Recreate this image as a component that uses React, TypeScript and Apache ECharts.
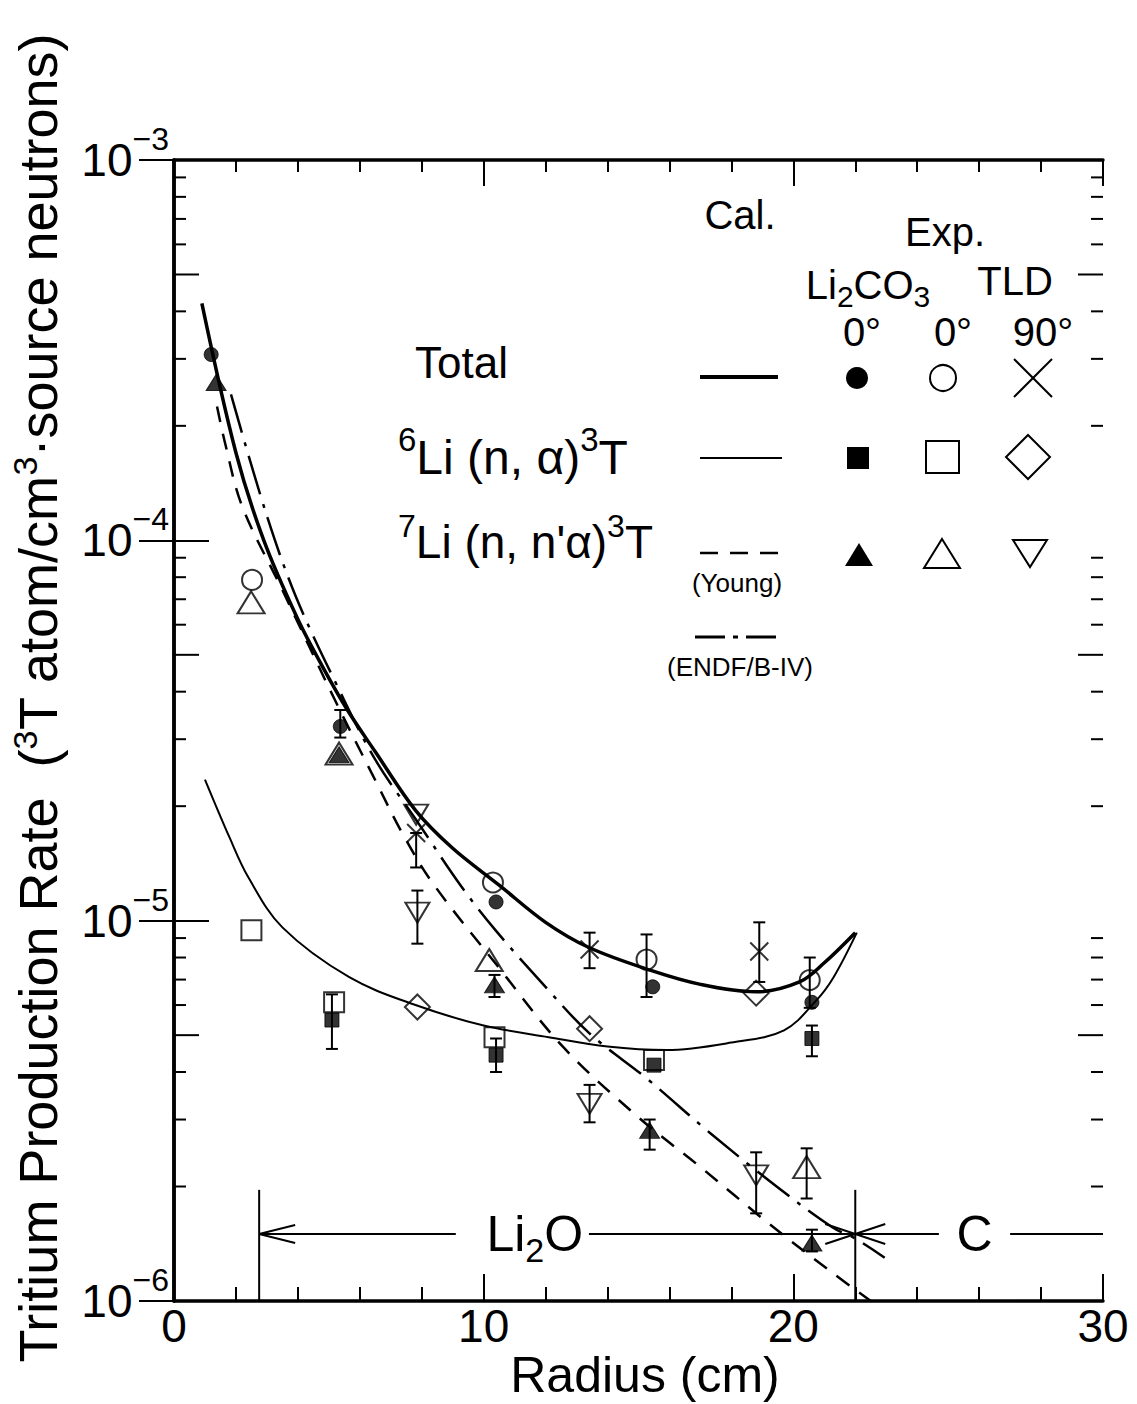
import React, { useEffect, useRef } from "react";
import * as echarts from "echarts";

const FONT = "'Liberation Sans', Arial, sans-serif";

// ---- axes ----
const X_MIN = 0;
const X_MAX = 30;
const X_INTERVAL = 10;
const Y_MIN = 1e-6;
const Y_MAX = 1e-3;
const yDecadeExponents = [-6, -5, -4];
const yMinorMultipliers = [2, 3, 4, 5, 6, 7, 8, 9];

// ---- calculated curves [radius (cm), tritium production rate] ----
const totalCalc = [
  [0.9, 4.2e-4], [2.0, 1.7e-4], [2.9, 1.0e-4], [4.0, 6.2e-5], [4.8, 4.65e-5],
  [5.6, 3.58e-5], [6.5, 2.78e-5], [7.8, 1.95e-5], [9.0, 1.55e-5], [10.5, 1.24e-5],
  [12.0, 9.9e-6], [13.4, 8.5e-6], [15.4, 7.4e-6], [17.0, 6.8e-6], [18.8, 6.5e-6],
  [20.2, 6.9e-6], [21.0, 7.75e-6], [22.0, 9.3e-6],
];
const li6Calc = [
  [1.0, 2.35e-5], [1.8, 1.65e-5], [2.4, 1.3e-5], [3.5, 9.6e-6], [5.66, 7.1e-6],
  [7.8, 6.0e-6], [10.0, 5.3e-6], [12.1, 4.94e-6], [14.0, 4.67e-6], [15.9, 4.57e-6],
  [18.0, 4.78e-6], [19.7, 5.15e-6], [20.75, 6.18e-6], [21.3, 7.1e-6], [22.05, 9.3e-6],
];
const li7Young = [
  [1.39, 2.25e-4], [1.65, 1.8e-4], [2.2, 1.23e-4], [3.5, 7.4e-5], [5.24, 3.74e-5],
  [6.5, 2.34e-5], [7.37, 1.7e-5], [8.34, 1.26e-5], [10.45, 7.6e-6], [12.55, 4.67e-6],
  [15.0, 3.04e-6], [17.0, 2.25e-6], [19.2, 1.6e-6], [21.3, 1.18e-6], [22.5, 1.0e-6],
];
const li7Endf = [
  [1.84, 2.42e-4], [2.97, 1.18e-4], [3.94, 7.1e-5], [5.33, 4.05e-5], [6.5, 2.65e-5],
  [7.9, 1.8e-5], [9.28, 1.23e-5], [10.4, 9.4e-6], [11.8, 6.98e-6], [13.4, 5.07e-6],
  [15.26, 3.85e-6], [17.3, 2.77e-6], [19.46, 2.0e-6], [21.27, 1.56e-6], [22.0, 1.46e-6],
  [22.95, 1.3e-6],
];

// ---- experiments ----
const totalLi2co3 = [[1.2, 3.08e-4], [5.37, 3.24e-5], [10.4, 1.12e-5], [15.46, 6.7e-6], [20.6, 6.1e-6]];
const totalTld0 = [[2.52, 7.87e-5], [10.3, 1.26e-5], [15.26, 7.9e-6], [20.53, 6.98e-6]];
const totalTld90 = [[7.82, 1.7e-5], [13.42, 8.4e-6], [18.9, 8.3e-6]];
const li6Li2co3 = [[5.1, 5.48e-6], [10.4, 4.43e-6], [15.5, 4.17e-6], [20.6, 4.9e-6]];
const li6Tld0 = [[2.5, 9.44e-6], [5.17, 6.1e-6], [10.35, 4.94e-6], [15.5, 4.3e-6]];
const li6Tld90 = [[7.86, 5.93e-6], [13.42, 5.2e-6], [18.8, 6.45e-6]];
const li7Li2co3 = [[1.36, 2.6e-4], [5.33, 2.73e-5], [10.35, 6.78e-6], [15.36, 2.81e-6], [20.6, 1.42e-6]];
const li7Tld0 = [[2.49, 6.87e-5], [5.33, 2.75e-5], [10.18, 7.88e-6], [20.43, 2.25e-6]];
const li7Tld90 = [[7.82, 1.9e-5], [7.86, 1.05e-5], [13.42, 3.3e-6], [18.8, 2.14e-6]];

// error bars [radius, low, high]
const errorBars = [
  [5.37, 3.03e-5, 3.58e-5],
  [7.82, 1.38e-5, 1.7e-5],
  [13.42, 7.5e-6, 9.3e-6],
  [18.9, 6.9e-6, 9.9e-6],
  [15.26, 6.3e-6, 9.2e-6],
  [20.53, 5.9e-6, 8.0e-6],
  [5.1, 4.6e-6, 6.4e-6],
  [10.4, 4.0e-6, 4.9e-6],
  [20.6, 4.4e-6, 5.3e-6],
  [10.35, 6.3e-6, 7.2e-6],
  [15.36, 2.5e-6, 3.0e-6],
  [20.6, 1.35e-6, 1.54e-6],
  [20.43, 1.86e-6, 2.52e-6],
  [7.86, 8.7e-6, 1.2e-5],
  [13.42, 2.95e-6, 3.7e-6],
  [18.8, 1.7e-6, 2.46e-6],
];

// ---- region annotation (Li2O | C) ----
const li2oStart = 2.75;
const boundaryR = 22.0;
const zoneLevel = 1.5e-6;
const zoneTop = 1.96e-6;
const li2oGapStart = 9.1;
const li2oGapEnd = 13.4;
const li2oLabelX = 11.65;
const cGapStart = 24.7;
const cGapEnd = 27.0;
const cLabelX = 25.85;

const yMinorValues: number[][] = [];
yDecadeExponents.forEach((e) => {
  yMinorMultipliers.forEach((m) => yMinorValues.push([X_MIN, m * Math.pow(10, e)]));
});

const BLACK = "#000";
const openStyle = { color: "rgba(0,0,0,0)", borderColor: BLACK, borderWidth: 2 };
const filledStyle = { color: BLACK, borderColor: BLACK, borderWidth: 1 };
const CROSS = "path://M0 0L20 20M20 0L0 20";
const DOWN_TRI = "path://M0 0L24 0L12 20Z";
const UP_TRI = "path://M12 0L24 20L0 20Z";

function lineSeries(data: number[][], width: number, type: any) {
  return {
    type: "line",
    data,
    smooth: 0.35,
    showSymbol: false,
    symbol: "none",
    lineStyle: { color: BLACK, width, type },
    z: 2,
  };
}
function scatter(data: number[][], symbol: string, size: any, style: any) {
  return { type: "scatter", data, symbol, symbolSize: size, itemStyle: style, z: 4 };
}

function ln(x1: number, y1: number, x2: number, y2: number, w = 2, dash?: number[]) {
  return {
    type: "line",
    shape: { x1, y1, x2, y2 },
    style: { stroke: BLACK, lineWidth: w, lineDash: dash },
  };
}
function txt(x: number, y: number, text: string, size: number, align = "center", rich?: any) {
  return {
    type: "text",
    x,
    y,
    style: { text, fontSize: size, fontFamily: FONT, fill: BLACK, align, verticalAlign: "middle", rich },
  };
}

const supRich = (base: number, sup: number) => ({
  b: { fontSize: base, fontFamily: FONT, lineHeight: base * 1.4, fill: BLACK },
  s: { fontSize: sup, fontFamily: FONT, lineHeight: sup, verticalAlign: "top", fill: BLACK },
});
const subRich = (base: number, sub: number) => ({
  b: { fontSize: base, fontFamily: FONT, lineHeight: base * 1.3, fill: BLACK },
  s: { fontSize: sub, fontFamily: FONT, lineHeight: sub, verticalAlign: "bottom", fill: BLACK },
});

function buildOption() {
  const axisLine = { show: true, lineStyle: { color: BLACK, width: 3.5 } };
  const xTick = { show: true, inside: true, length: 27, lineStyle: { color: BLACK, width: 2 } };
  const xMinor = { show: true, splitNumber: 5, length: 14, lineStyle: { color: BLACK, width: 2 } };
  const yTick = { show: true, inside: true, length: 35, lineStyle: { color: BLACK, width: 2 } };

  const graphic: any[] = [
    // y axis title
    {
      type: "text",
      x: 38,
      y: 698,
      rotation: Math.PI / 2,
      style: {
        text: "{b|Tritium Production Rate  (}{s|3}{b|T atom/cm}{s|3}{b|·source neutrons)}",
        align: "center",
        verticalAlign: "middle",
        rich: {
          b: { fontSize: 54, fontFamily: FONT, lineHeight: 60, fill: BLACK },
          s: { fontSize: 34, fontFamily: FONT, lineHeight: 34, verticalAlign: "top", fill: BLACK },
        },
      },
    },
    // x axis title
    txt(645, 1375, "Radius (cm)", 50),
    // legend header
    txt(740, 215, "Cal.", 40),
    txt(945, 232, "Exp.", 40),
    txt(868, 285, "{b|Li}{s|2}{b|CO}{s|3}", 40, "center", subRich(40, 30)),
    txt(1015, 281, "TLD", 40),
    txt(862, 332, "0°", 40),
    txt(953, 332, "0°", 40),
    txt(1043, 332, "90°", 40),
    // legend labels
    txt(415, 362, "Total", 44, "left"),
    txt(398, 457, "{s|6}{b|Li (n, α)}{s|3}{b|T}", 48, "left", supRich(48, 33)),
    txt(398, 542, "{s|7}{b|Li (n, n'α)}{s|3}{b|T}", 46, "left", supRich(46, 32)),
    // legend line samples
    ln(700, 377, 778, 377, 4),
    ln(700, 458, 782, 458, 2),
    ln(700, 553, 785, 553, 2.5, [18, 12]),
    txt(737, 583, "(Young)", 26),
    ln(695, 637, 783, 637, 3, [30, 8, 5, 8]),
    txt(740, 667, "(ENDF/B-IV)", 26),
    // legend markers, row Total
    { type: "circle", shape: { cx: 857, cy: 378, r: 11 }, style: { fill: BLACK } },
    { type: "circle", shape: { cx: 943, cy: 378, r: 13 }, style: { fill: "none", stroke: BLACK, lineWidth: 2 } },
    ln(1014, 359, 1052, 397, 2),
    ln(1052, 359, 1014, 397, 2),
    // row 6Li
    { type: "rect", shape: { x: 847, y: 447, width: 22, height: 22 }, style: { fill: BLACK } },
    { type: "rect", shape: { x: 926, y: 441, width: 33, height: 32 }, style: { fill: "none", stroke: BLACK, lineWidth: 2 } },
    {
      type: "polygon",
      shape: { points: [[1028, 435], [1050, 457], [1028, 479], [1006, 457]] },
      style: { fill: "none", stroke: BLACK, lineWidth: 2 },
    },
    // row 7Li
    { type: "polygon", shape: { points: [[859, 543], [873, 566], [845, 566]] }, style: { fill: BLACK } },
    {
      type: "polygon",
      shape: { points: [[942, 539], [960, 568], [924, 568]] },
      style: { fill: "none", stroke: BLACK, lineWidth: 2 },
    },
    {
      type: "polygon",
      shape: { points: [[1013, 540], [1047, 540], [1030, 567]] },
      style: { fill: "none", stroke: BLACK, lineWidth: 2 },
    },
  ];

  return {
    animation: false,
    backgroundColor: "#fff",
    grid: { left: 174, right: 34, top: 160, bottom: 103, containLabel: false, outerBoundsMode: "none" },
    xAxis: [
      {
        type: "value",
        position: "bottom",
        min: X_MIN,
        max: X_MAX,
        interval: X_INTERVAL,
        axisLine,
        axisTick: xTick,
        minorTick: xMinor,
        splitLine: { show: false },
        axisLabel: { fontSize: 46, fontFamily: FONT, color: BLACK, margin: 2 },
      },
      {
        type: "value",
        position: "top",
        min: X_MIN,
        max: X_MAX,
        interval: X_INTERVAL,
        axisLine,
        axisTick: { ...xTick, length: 26 },
        minorTick: { ...xMinor, length: 12 },
        splitLine: { show: false },
        axisLabel: { show: false },
      },
    ],
    yAxis: [
      {
        type: "log",
        logBase: 10,
        position: "left",
        min: Y_MIN,
        max: Y_MAX,
        axisLine,
        axisTick: yTick,
        splitLine: { show: false },
        axisLabel: {
          margin: 5,
          formatter: (v: number) => `{b|10}{s|−${-Math.round(Math.log10(v))}}`,
          rich: {
            b: { fontSize: 46, fontFamily: FONT, lineHeight: 74, color: BLACK },
            s: { fontSize: 32, fontFamily: FONT, lineHeight: 32, verticalAlign: "top", color: BLACK },
          },
        },
      },
      {
        type: "log",
        logBase: 10,
        position: "right",
        min: Y_MIN,
        max: Y_MAX,
        axisLine,
        axisTick: yTick,
        splitLine: { show: false },
        axisLabel: { show: false },
      },
    ],
    graphic,
    series: [
      lineSeries(totalCalc, 3.5, "solid"),
      lineSeries(li6Calc, 2, "solid"),
      lineSeries(li7Young, 2.5, [16, 12]),
      lineSeries(li7Endf, 2.5, [40, 10, 4, 10]),
      {
        type: "custom",
        data: errorBars,
        encode: { x: 0, y: [1, 2] },
        z: 3,
        renderItem: (_p: any, api: any) => {
          const x = api.value(0);
          const lo = api.coord([x, api.value(1)]);
          const hi = api.coord([x, api.value(2)]);
          const c = 6;
          return {
            type: "group",
            children: [
              ln(lo[0], lo[1], hi[0], hi[1], 2),
              ln(lo[0] - c, lo[1], lo[0] + c, lo[1], 2),
              ln(hi[0] - c, hi[1], hi[0] + c, hi[1], 2),
            ],
          };
        },
      },
      scatter(totalLi2co3, "circle", 14, filledStyle),
      scatter(totalTld0, "circle", 20, openStyle),
      scatter(totalTld90, CROSS, 18, { color: "rgba(0,0,0,0)", borderColor: BLACK, borderWidth: 2 }),
      scatter(li6Li2co3, "rect", 14, filledStyle),
      scatter(li6Tld0, "rect", 20, openStyle),
      scatter(li6Tld90, "diamond", 25, openStyle),
      scatter(li7Li2co3, UP_TRI, [20, 16], filledStyle),
      scatter(li7Tld0, UP_TRI, [27, 22], openStyle),
      scatter(li7Tld90, DOWN_TRI, [24, 20], openStyle),
      // minor log ticks on left and right frame
      {
        type: "custom",
        data: yMinorValues,
        encode: { x: 0, y: 1 },
        z: 5,
        silent: true,
        renderItem: (_p: any, api: any) => {
          const v = api.value(1);
          const l = api.coord([X_MIN, v]);
          const r = api.coord([X_MAX, v]);
          const m = Math.round(v / Math.pow(10, Math.floor(Math.log10(v) + 1e-9)));
          const len = m === 5 ? 25 : 12;
          return {
            type: "group",
            children: [ln(l[0], l[1], l[0] + len, l[1], 2), ln(r[0], r[1], r[0] - len, r[1], 2)],
          };
        },
      },
      // Li2O / C region annotation
      {
        type: "custom",
        data: [[boundaryR, zoneLevel]],
        encode: { x: 0, y: 1 },
        z: 5,
        silent: true,
        renderItem: (_p: any, api: any) => {
          const a = api.coord([li2oStart, zoneLevel]);
          const aTop = api.coord([li2oStart, zoneTop]);
          const aBot = api.coord([li2oStart, Y_MIN]);
          const b = api.coord([boundaryR, zoneLevel]);
          const bTop = api.coord([boundaryR, zoneTop]);
          const bBot = api.coord([boundaryR, Y_MIN]);
          const g1 = api.coord([li2oGapStart, zoneLevel]);
          const g2 = api.coord([li2oGapEnd, zoneLevel]);
          const c1 = api.coord([cGapStart, zoneLevel]);
          const c2 = api.coord([cGapEnd, zoneLevel]);
          const end = api.coord([X_MAX, zoneLevel]);
          const lLab = api.coord([li2oLabelX, zoneLevel]);
          const cLab = api.coord([cLabelX, zoneLevel]);
          const y = a[1];
          return {
            type: "group",
            children: [
              ln(aTop[0], aTop[1], aBot[0], aBot[1], 2),
              ln(bTop[0], bTop[1], bBot[0], bBot[1], 2),
              ln(a[0], y, g1[0], y, 2),
              ln(a[0], y, a[0] + 36, y - 9, 2),
              ln(a[0], y, a[0] + 36, y + 9, 2),
              ln(g2[0], y, b[0], y, 2),
              ln(b[0], y, b[0] - 30, y - 10, 2),
              ln(b[0], y, b[0] - 30, y + 10, 2),
              ln(b[0], y, c1[0], y, 2),
              ln(b[0], y, b[0] + 30, y - 10, 2),
              ln(b[0], y, b[0] + 30, y + 10, 2),
              ln(c2[0], y, end[0], y, 2),
              {
                type: "text",
                x: lLab[0],
                y: lLab[1],
                style: {
                  text: "{b|Li}{s|2}{b|O}",
                  align: "center",
                  verticalAlign: "middle",
                  rich: subRich(50, 34),
                },
              },
              {
                type: "text",
                x: cLab[0],
                y: cLab[1],
                style: {
                  text: "C",
                  fontSize: 50,
                  fontFamily: FONT,
                  fill: BLACK,
                  align: "center",
                  verticalAlign: "middle",
                },
              },
            ],
          };
        },
      },
    ],
  };
}

export default function App() {
  const ref = useRef<HTMLDivElement>(null);
  useEffect(() => {
    if (!ref.current) return;
    const chart = echarts.init(ref.current, null, { renderer: "svg" });
    chart.setOption(buildOption() as any);
    return () => chart.dispose();
  }, []);
  return (
    <div
      ref={ref}
      style={{ position: "absolute", left: 0, top: 0, width: 1137, height: 1404, background: "#fff" }}
    />
  );
}
